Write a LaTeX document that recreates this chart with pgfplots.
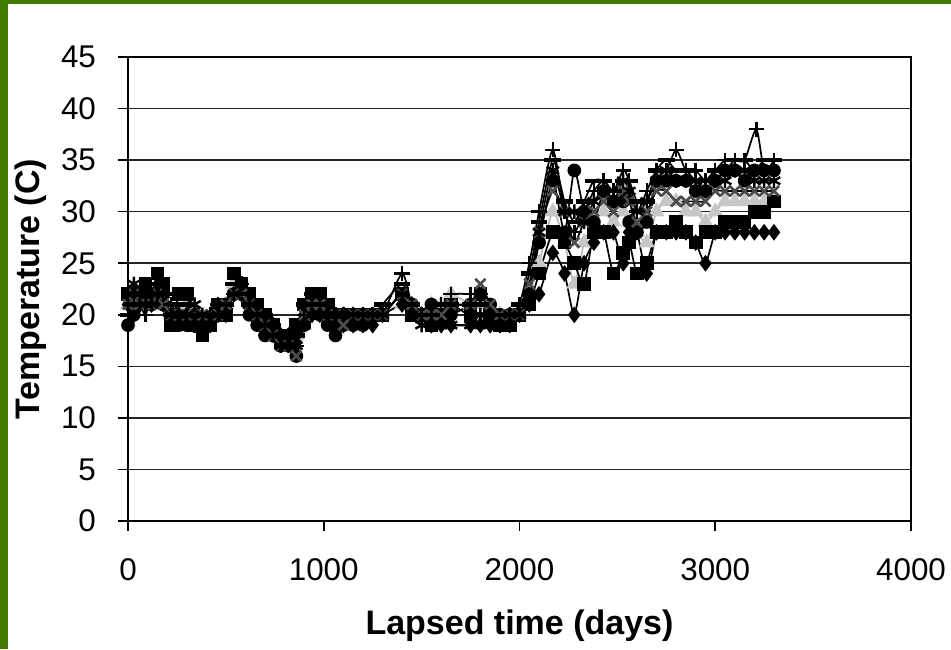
\documentclass[border=0pt]{standalone}
\usepackage{pgfplots}
\pgfplotsset{compat=1.18}
\usepackage{fontspec}
\setmainfont{Liberation Sans}
\definecolor{frameg}{RGB}{64,122,0}
\begin{document}
\begin{tikzpicture}[x=1pt,y=1pt]
\path[use as bounding box] (0,0) rectangle (475.5,324.5);
\fill[white] (0,0) rectangle (475.5,324.5);
\begin{axis}[
  at={(64pt,64pt)}, anchor=south west,
  scale only axis, width=391.5pt, height=232pt,
  xmin=0,xmax=4000,ymin=0,ymax=45,
  xtick={0,1000,...,4000}, ytick={0,5,...,45},
  ymajorgrids, grid style={black!85, line width=0.8pt},
  axis line style={line width=0.9pt},
  tick align=outside, major tick length=5pt,
  tick style={black, line width=0.8pt},
  xtick pos=left, ytick pos=left,
  ticklabel style={font=\fontsize{15.7}{17}\selectfont},
  /pgf/number format/assume math mode=true,
  /pgf/number format/1000 sep={},
  xticklabel style={yshift=-10pt},
  yticklabel style={xshift=-7.5pt},
  xlabel={Lapsed time (days)}, ylabel={Temperature (C)},
  label style={font=\bfseries\fontsize{17}{20}\selectfont},
  xlabel style={at={(axis description cs:0.5,-0.226)}, anchor=center},
  ylabel style={at={(axis description cs:-0.124,0.5)}, anchor=center},
  every axis plot/.append style={line width=0.85pt, smooth, tension=0.4},
]
% gray triangles
\addplot[gray!55, mark=triangle*, mark size=3.8pt, mark options={fill=gray!45, draw=gray!45}] coordinates {
(0,21)(30,21)(60,22)(90,21)(120,21)(150,22)(180,21)(220,20)(260,20)(300,21)(340,20)(380,19)(420,20)(460,20)(500,21)(540,23)(580,22)(620,21)(660,20)(700,19)(740,18)(780,18)(820,17)(860,18)(900,19)(940,21)(980,20)(1020,20)(1060,19)(1100,20)(1150,20)(1200,20)(1250,20)(1300,20)(1400,21)(1450,20)(1500,20)(1550,21)(1600,21)(1650,22)(1750,21)(1800,21)(1850,20)(1900,20)(1950,20)(2000,20)(2050,22)(2100,25)(2170,30)(2230,27)(2280,23)(2330,27)(2380,29)(2430,30)(2480,29)(2530,30)(2560,29)(2600,28)(2650,27)(2700,30)(2750,31)(2800,31)(2850,30)(2900,30)(2950,29)(3000,30)(3050,31)(3100,31)(3150,31)(3200,31)(3250,31)(3300,31)};
% squares
\addplot[black, mark=square*, mark size=3pt] coordinates {
(0,22)(30,21)(60,22)(90,23)(120,22)(150,24)(180,23)(220,19)(260,22)(300,22)(340,19)(380,18)(420,19)(460,21)(500,20)(540,24)(580,23)(620,22)(660,21)(700,20)(740,19)(780,18)(820,18)(860,19)(900,21)(940,22)(980,22)(1020,21)(1060,20)(1100,20)(1150,20)(1200,20)(1250,20)(1300,20)(1400,22)(1450,20)(1500,20)(1550,19)(1600,20)(1650,21)(1750,20)(1800,22)(1850,20)(1900,19)(1950,19)(2000,20)(2050,21)(2100,24)(2170,28)(2230,27)(2280,25)(2330,23)(2380,28)(2430,28)(2480,24)(2530,26)(2560,27)(2600,24)(2650,25)(2700,28)(2750,28)(2800,29)(2850,28)(2900,27)(2950,28)(3000,28)(3050,29)(3100,29)(3150,29)(3200,30)(3250,30)(3300,31)};
% circles
\addplot[black, mark=*, mark size=3pt] coordinates {
(0,19)(30,20)(60,21)(90,22)(120,21)(150,22)(180,21)(220,20)(260,19)(300,19)(340,20)(380,19)(420,19)(460,20)(500,21)(540,22)(580,22)(620,20)(660,19)(700,18)(740,18)(780,17)(820,17)(860,16)(900,19)(940,21)(980,20)(1020,19)(1060,18)(1100,19)(1150,19)(1200,19)(1250,20)(1300,20)(1400,22)(1450,21)(1500,20)(1550,21)(1600,20)(1650,20)(1750,21)(1800,22)(1850,21)(1900,20)(1950,20)(2000,20)(2050,22)(2100,27)(2170,33)(2230,28)(2280,34)(2330,30)(2380,29)(2430,32)(2480,31)(2530,31)(2560,29)(2600,28)(2650,29)(2700,33)(2750,33)(2800,33)(2850,33)(2900,32)(2950,32)(3000,33)(3050,34)(3100,34)(3150,33)(3200,34)(3250,34)(3300,34)};
% diamonds
\addplot[black, mark=diamond*, mark size=3.5pt] coordinates {
(0,21)(30,20)(60,21)(90,21)(120,21)(150,22)(180,21)(220,20)(260,20)(300,20)(340,20)(380,19)(420,19)(460,20)(500,20)(540,22)(580,22)(620,21)(660,20)(700,19)(740,19)(780,18)(820,18)(860,18)(900,20)(940,20)(980,20)(1020,20)(1060,19)(1100,19)(1150,19)(1200,19)(1250,19)(1300,20)(1400,21)(1450,21)(1500,20)(1550,19)(1600,19)(1650,19)(1750,19)(1800,19)(1850,19)(1900,19)(1950,19)(2000,20)(2050,21)(2100,22)(2170,26)(2230,24)(2280,20)(2330,25)(2380,27)(2430,28)(2480,28)(2530,25)(2560,28)(2600,28)(2650,24)(2700,28)(2750,28)(2800,28)(2850,28)(2900,27)(2950,25)(3000,28)(3050,28)(3100,28)(3150,28)(3200,28)(3250,28)(3300,28)};
% x marks
\addplot[black, mark=x, mark size=3.6pt, mark options={line width=1.3pt, draw=black!70}] coordinates {
(0,21)(30,22)(60,21)(90,21)(120,21)(150,22)(180,21)(220,20)(260,20)(300,20)(340,20)(380,20)(420,20)(460,20)(500,21)(540,22)(580,22)(620,21)(660,20)(700,19)(740,18)(780,17)(820,17)(860,16)(900,20)(940,21)(980,21)(1020,20)(1060,20)(1100,19)(1150,20)(1200,20)(1250,20)(1300,20)(1400,22)(1450,21)(1500,20)(1550,20)(1600,20)(1650,21)(1750,21)(1800,23)(1850,21)(1900,20)(1950,20)(2000,20)(2050,23)(2100,28)(2170,32)(2230,30)(2280,27)(2330,29)(2380,30)(2430,31)(2480,30)(2530,32)(2560,31)(2600,29)(2650,30)(2700,32)(2750,32)(2800,31)(2850,31)(2900,31)(2950,31)(3000,32)(3050,32)(3100,32)(3150,32)(3200,32)(3250,32)(3300,32)};
% asterisks
\addplot[black, mark=asterisk, mark size=3.6pt, mark options={line width=1.2pt}] coordinates {
(0,22)(30,23)(60,22)(90,21)(120,21)(150,22)(180,22)(220,20)(260,20)(300,20)(340,21)(380,20)(420,19)(460,20)(500,20)(540,22)(580,23)(620,21)(660,20)(700,19)(740,18)(780,17)(820,17)(860,17)(900,19)(940,20)(980,20)(1020,20)(1060,20)(1100,20)(1150,20)(1200,20)(1250,20)(1300,20)(1400,22)(1450,20)(1500,19)(1550,19)(1600,19)(1650,19)(1750,19)(1800,20)(1850,19)(1900,19)(1950,20)(2000,20)(2050,22)(2100,28)(2170,34)(2230,30)(2280,30)(2330,29)(2380,31)(2430,32)(2480,31)(2530,33)(2560,32)(2600,30)(2650,31)(2700,33)(2750,34)(2800,33)(2850,33)(2900,33)(2950,32)(3000,33)(3050,33)(3100,34)(3150,34)(3200,33)(3250,33)(3300,33)};
% plus
\addplot[black, mark=+, mark size=3.8pt, mark options={line width=1.2pt}] coordinates {
(0,20)(30,22)(60,21)(90,20)(120,22)(150,23)(180,22)(220,21)(260,20)(300,20)(340,19)(380,19)(420,20)(460,21)(500,20)(540,22)(580,23)(620,21)(660,20)(700,19)(740,19)(780,18)(820,18)(860,17)(900,20)(940,22)(980,21)(1020,20)(1060,20)(1100,20)(1150,20)(1200,20)(1250,20)(1300,20)(1400,24)(1450,21)(1500,20)(1550,20)(1600,21)(1650,22)(1750,22)(1800,22)(1850,20)(1900,19)(1950,20)(2000,21)(2050,25)(2100,30)(2170,36)(2230,30)(2280,28)(2330,30)(2380,32)(2430,33)(2480,32)(2530,34)(2560,33)(2600,30)(2650,32)(2700,34)(2750,34)(2800,36)(2850,34)(2900,34)(2950,33)(3000,34)(3050,35)(3100,35)(3150,35)(3210,38)(3250,34)(3300,35)};
% bars
\addplot[black, mark=-, mark size=4.2pt, mark options={line width=2.2pt}] coordinates {
(0,20)(30,21)(60,21)(90,22)(120,22)(150,23)(180,22)(220,20)(260,21)(300,21)(340,20)(380,19)(420,20)(460,20)(500,21)(540,23)(580,22)(620,21)(660,20)(700,20)(740,19)(780,18)(820,18)(860,18)(900,21)(940,22)(980,21)(1020,20)(1060,20)(1100,20)(1150,20)(1200,20)(1250,20)(1300,21)(1400,23)(1450,21)(1500,20)(1550,20)(1600,21)(1650,21)(1750,21)(1800,21)(1850,20)(1900,20)(1950,20)(2000,21)(2050,24)(2100,29)(2170,35)(2230,31)(2280,29)(2330,31)(2380,33)(2430,33)(2480,32)(2530,33)(2560,33)(2600,31)(2650,31)(2700,34)(2750,35)(2800,34)(2850,34)(2900,33)(2950,33)(3000,34)(3050,34)(3100,35)(3150,35)(3200,34)(3250,35)(3300,35)};
\end{axis}
\fill[frameg] (0,0) rectangle (4,324.5);
\fill[frameg] (0,322.5) rectangle (475.5,324.5);
\end{tikzpicture}
\end{document}
